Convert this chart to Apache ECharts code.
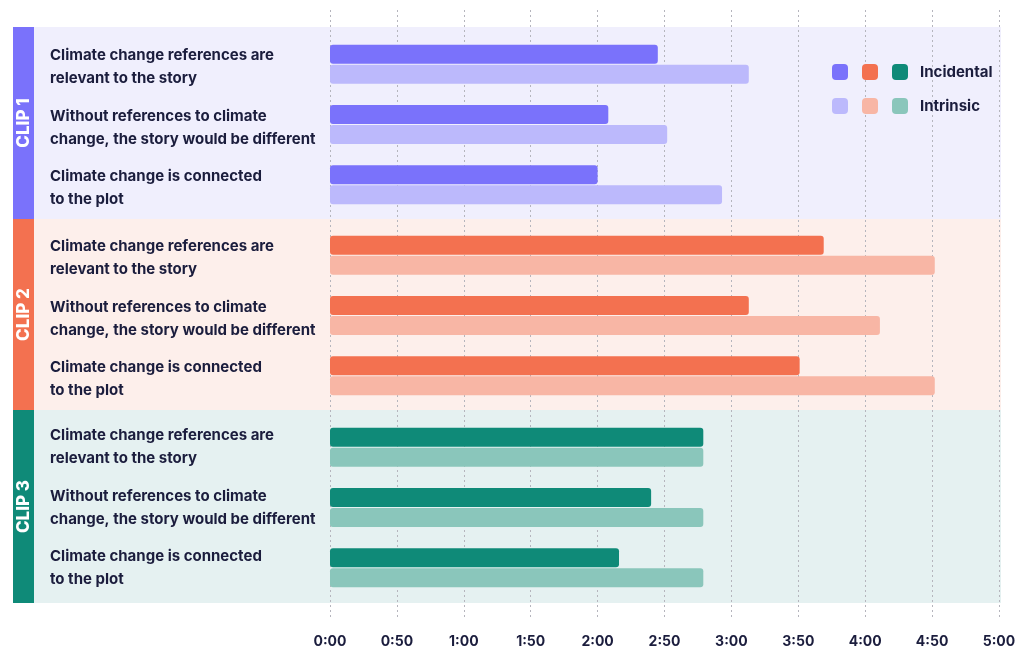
<!DOCTYPE html>
<html><head><meta charset="utf-8">
<script src="https://cdn.jsdelivr.net/npm/echarts@6/dist/echarts.min.js"></script>
<style>html,body{margin:0;padding:0;background:#fff}#c{width:1029px;height:650px}</style>
</head><body><div id="c"></div>
<script>
var categories = [
  'Climate change references are\nrelevant to the story',
  'Without references to climate\nchange, the story would be different',
  'Climate change is connected\nto the plot'
];
var clipNames = ['CLIP 1', 'CLIP 2', 'CLIP 3'];
var tickLabels = ['0:00','0:50','1:00','1:50','2:00','2:50','3:00','3:50','4:00','4:50','5:00'];
var clip1Incidental = [2.45, 2.08, 2.00];
var clip1Intrinsic  = [3.13, 2.52, 2.93];
var clip2Incidental = [3.69, 3.13, 3.51];
var clip2Intrinsic  = [4.52, 4.11, 4.52];
var clip3Incidental = [2.79, 2.40, 2.16];
var clip3Intrinsic  = [2.79, 2.79, 2.79];

var incData = [clip1Incidental, clip2Incidental, clip3Incidental];
var intData = [clip1Intrinsic, clip2Intrinsic, clip3Intrinsic];
var incColors = ['#7A72FB', '#F37150', '#0F8A78'];
var intColors = ['#BCB9FC', '#F8B6A5', '#8AC6BB'];
var bgColors = ['#F0EFFD', '#FDEFEB', '#E5F1F1'];
var bandTops = [27, 219, 410];
var bandBottoms = [219, 410, 603];
var gridTops = [34, 225, 417];
var labelShift = [3, 3, 0];
var gridHeight = 181;
var textColor = '#1B1D3D';
var font = 'Inter, "Noto Sans", sans-serif';

var grids = [{left: 330, right: 30, top: 10, bottom: 30}];
var xAxes = [{
  gridIndex: 0, type: 'value', min: 0, max: 5, interval: 0.5,
  axisLine: {show: false}, axisTick: {show: false},
  axisLabel: {margin: 15, color: textColor, fontFamily: font, fontWeight: 700, fontSize: 14,
    formatter: function (v) { return tickLabels[Math.round(v / 0.5)]; }},
  splitLine: {show: true, lineStyle: {type: [2, 3], color: '#b5b5bd', width: 1}}
}];
var yAxes = [{gridIndex: 0, type: 'category', data: [], show: false}];
var series = [];
var graphics = [];
var legends = [];

for (var i = 0; i < 3; i++) {
  grids.push({left: 330, right: 30, top: gridTops[i], height: gridHeight});
  var gi = grids.length - 1;
  xAxes.push({gridIndex: gi, type: 'value', min: 0, max: 5, show: false, splitLine: {show: false}});
  yAxes.push({gridIndex: gi, type: 'category', data: categories, inverse: true, show: false});
  var ai = yAxes.length - 1;
  var n1 = clipNames[i] + ' Incidental', n2 = clipNames[i] + ' Intrinsic';
  series.push({
    name: n1, type: 'bar', xAxisIndex: ai, yAxisIndex: ai, data: incData[i],
    barWidth: 19, barGap: '5%', itemStyle: {color: incColors[i], borderRadius: 3}
  });
  series.push({
    name: n2, type: 'bar', xAxisIndex: ai, yAxisIndex: ai, data: intData[i],
    barWidth: 19, barGap: '5%', itemStyle: {color: intColors[i], borderRadius: 3}
  });
  grids.push({left: 330, right: 30, top: gridTops[i] + labelShift[i], height: gridHeight});
  var li = grids.length - 1;
  xAxes.push({gridIndex: li, type: 'value', min: 0, max: 5, show: false, splitLine: {show: false}});
  yAxes.push({
    gridIndex: li, type: 'category', data: categories, inverse: true,
    axisLine: {show: false}, axisTick: {show: false}, splitLine: {show: false},
    axisLabel: {align: 'left', margin: 280, color: textColor, fontFamily: font, fontWeight: 700,
      fontSize: 15, lineHeight: 23}
  });
  legends.push({
    data: [n1, n2], orient: 'vertical', left: 832 + i * 30, top: 64, padding: 0,
    itemWidth: 16, itemHeight: 16, itemGap: 18, icon: 'roundRect',
    selectedMode: false,
    textStyle: {color: textColor, fontFamily: font, fontWeight: 700, fontSize: 15, padding: [0, 0, 0, 7]},
    formatter: (function (last) {
      return function (name) {
        if (!last) return '';
        return name.indexOf('Incidental') >= 0 ? 'Incidental' : 'Intrinsic';
      };
    })(i === 2)
  });
  graphics.push({
    type: 'rect', z: -10, silent: true,
    shape: {x: 34, y: bandTops[i], width: 967, height: bandBottoms[i] - bandTops[i]},
    style: {fill: bgColors[i]}
  });
  graphics.push({
    type: 'rect', z: -10, silent: true,
    shape: {x: 13, y: bandTops[i], width: 21, height: bandBottoms[i] - bandTops[i]},
    style: {fill: incColors[i]}
  });
  graphics.push({
    type: 'text', silent: true,
    x: 23.5, y: (bandTops[i] + bandBottoms[i]) / 2, rotation: Math.PI / 2,
    style: {text: clipNames[i], fill: '#fff', font: '800 17px ' + font,
      align: 'center', verticalAlign: 'middle'}
  });
}

var chart = echarts.init(document.getElementById('c'));
chart.setOption({
  animation: false,
  backgroundColor: '#fff',
  grid: grids, xAxis: xAxes, yAxis: yAxes, series: series,
  legend: legends,
  graphic: {elements: graphics}
});
</script></body></html>
